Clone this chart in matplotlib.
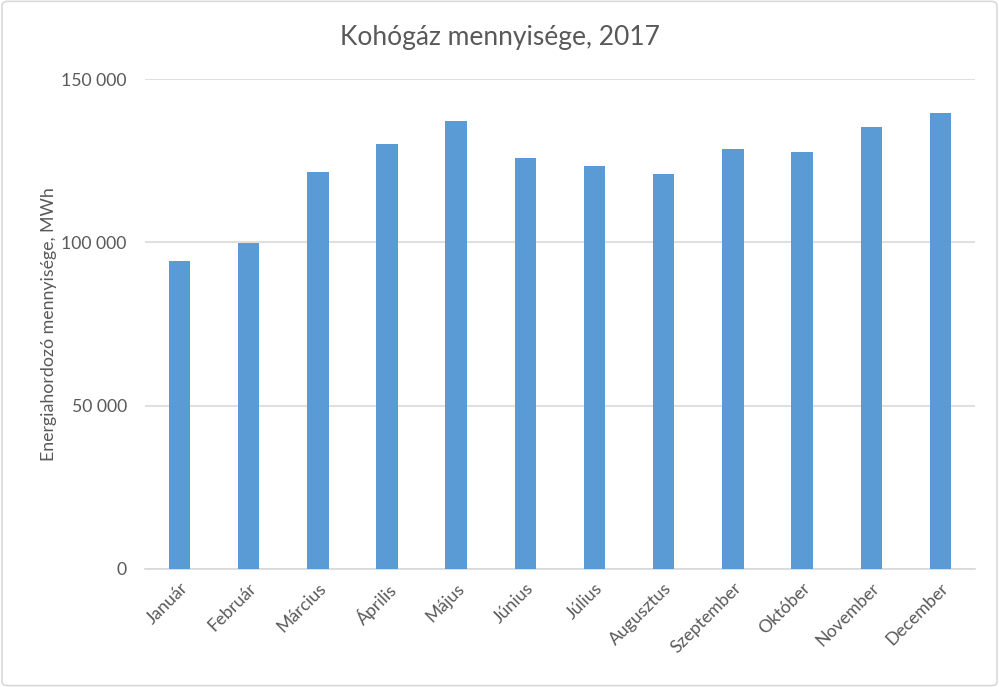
import matplotlib
matplotlib.use("Agg")
import matplotlib.pyplot as plt
from matplotlib.patches import FancyBboxPatch
from matplotlib.ticker import FuncFormatter

months = ["Január", "Február", "Március", "Április", "Május", "Június",
          "Július", "Augusztus", "Szeptember", "Október", "November", "December"]
values = [94200, 99800, 121500, 130100, 137100, 125800,
          123300, 120900, 128500, 127600, 135300, 139600]
yticks = [0, 50000, 100000, 150000]

plt.rcParams['font.family'] = ['Lato', 'DejaVu Sans']
txt = "#595959"

fig = plt.figure(figsize=(9.99, 6.87), dpi=100)
fig.patches.append(FancyBboxPatch((0.002, 0.002), 0.996, 0.996,
                                  boxstyle="round,pad=0,rounding_size=0.006",
                                  transform=fig.transFigure, fill=False,
                                  edgecolor="#d9d9d9", linewidth=1.2))
ax = fig.add_axes([0.145, 0.172, 0.831, 0.713])
x = range(len(months))
ax.bar(x, values, width=0.31, color="#5b9bd5", zorder=3)
ax.set_xlim(-0.5, len(months) - 0.5)
ax.set_ylim(0, 150000)
ax.set_yticks(yticks)
ax.yaxis.set_major_formatter(FuncFormatter(lambda v, p: f"{int(v):,}".replace(",", " ")))
ax.grid(axis="y", color="#d9d9d9", linewidth=1.2, zorder=0)
for s in ["top", "right", "left"]:
    ax.spines[s].set_visible(False)
ax.spines["bottom"].set_color("#d9d9d9")
ax.spines["bottom"].set_linewidth(1.2)
ax.tick_params(axis="both", length=0, colors=txt, labelsize=12.7)
ax.tick_params(axis="y", pad=13)
ax.set_xticks(list(x))
ax.set_xticklabels(months, rotation=45, ha="right", rotation_mode="anchor")
ax.tick_params(axis="x", pad=8)
ax.set_ylabel("Energiahordozó mennyisége, MWh", color=txt, fontsize=12.8, labelpad=3)
fig.text(0.5, 0.945, "Kohógáz mennyisége, 2017", ha="center", va="center",
         color=txt, fontsize=19)
fig.savefig("out.png", dpi=100, facecolor="white")
